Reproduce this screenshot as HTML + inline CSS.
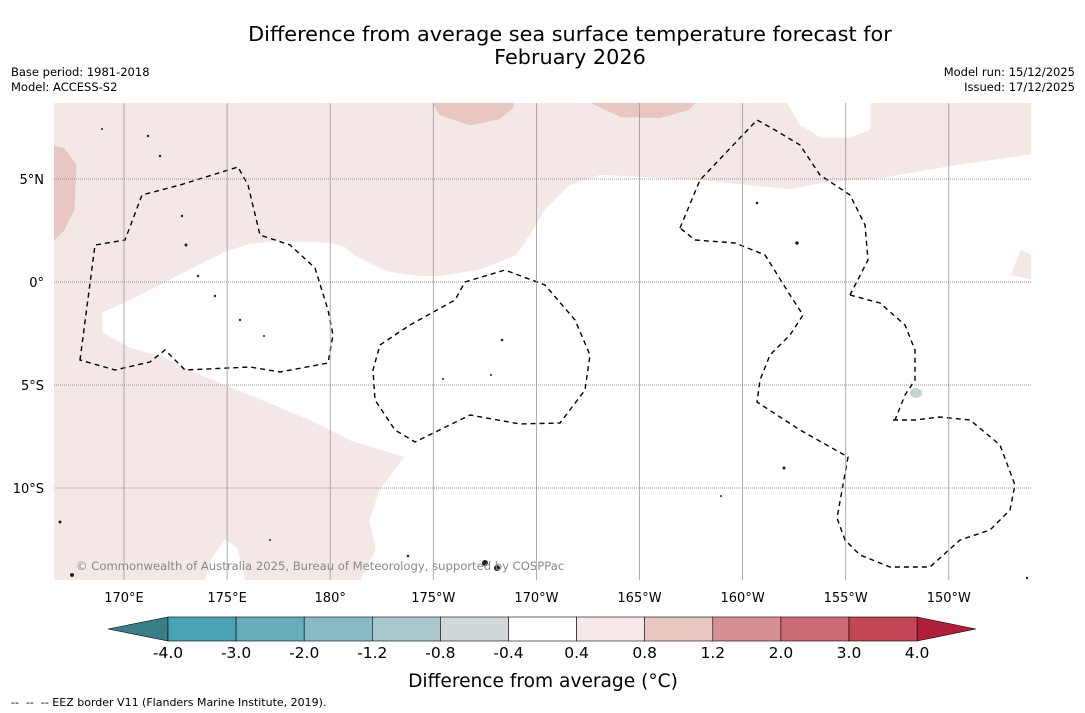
<!DOCTYPE html>
<html><head><meta charset="utf-8"><style>
body{margin:0;background:#fff;font-family:"DejaVu Sans","Liberation Sans",sans-serif;}
svg{display:block}
</style></head><body>
<svg id="c" width="1085" height="713" xmlns="http://www.w3.org/2000/svg">
<text x="570" y="41" font-size="20.8" text-anchor="middle">Difference from average sea surface temperature forecast for</text>
<text x="570" y="64" font-size="20.8" text-anchor="middle">February 2026</text>
<text x="11" y="76" font-size="11.5">Base period: 1981-2018</text>
<text x="11" y="91" font-size="11.5">Model: ACCESS-S2</text>
<text x="1075" y="76" font-size="11.5" text-anchor="end">Model run: 15/12/2025</text>
<text x="1075" y="91" font-size="11.5" text-anchor="end">Issued: 17/12/2025</text>
<defs><clipPath id="mc"><rect x="54" y="103" width="977" height="477"/></clipPath></defs>
<g id="map" clip-path="url(#mc)"></g>
<g id="eez" clip-path="url(#mc)" fill="none" stroke="#000" stroke-width="1.4" stroke-dasharray="5,4">
<path d="M80,360 L95,245 L125,240 L142,195 L180,185 L238,167 L248,185 L260,235 L290,245 L315,268 L328,310 L333,335 L328,363 L280,372 L250,367 L185,370 L165,350 L150,362 L115,370 Z"/>
<path d="M380,345 L410,325 L455,300 L465,282 L505,270 L545,285 L575,320 L590,355 L585,390 L560,423 L520,424 L470,415 L415,442 L395,430 L375,400 L373,370 Z"/>
<path d="M680,228 L700,180 L757,120 L775,130 L800,145 L820,175 L850,195 L865,225 L868,260 L850,295"/>
<path d="M850,295 L880,303 L905,325 L915,350 L915,380 L905,395 L895,420"/>
<path d="M893,420 L915,420 L940,417 L970,420 L1000,445 L1015,485 L1010,510 L990,530 L960,540 L930,567 L890,567 L860,555 L845,540 L837,518 L848,457 L800,430 L757,402 L760,380 L770,355 L790,335 L803,315 L790,295 L765,255 L735,243 L695,240 L680,228"/>
</g>
<g fill="#222">
<circle cx="148" cy="136" r="1.2"/><circle cx="160" cy="156" r="1.2"/><circle cx="186" cy="245" r="1.5"/><circle cx="215" cy="296" r="1.2"/><circle cx="240" cy="320" r="1.2"/><circle cx="264" cy="336" r="1"/><circle cx="502" cy="340" r="1.3"/><circle cx="443" cy="379" r="1"/><circle cx="491" cy="375" r="1"/><circle cx="784" cy="468" r="1.5"/><circle cx="797" cy="243" r="1.8"/><circle cx="757" cy="203" r="1.3"/><circle cx="721" cy="496" r="1"/><circle cx="60" cy="522" r="1.5"/><circle cx="72" cy="575" r="2"/><circle cx="485" cy="563" r="3"/><circle cx="497" cy="568" r="3"/><circle cx="408" cy="556" r="1.3"/><circle cx="270" cy="540" r="1"/><circle cx="1027" cy="578" r="1.2"/><circle cx="102" cy="129" r="1"/><circle cx="182" cy="216" r="1.2"/><circle cx="198" cy="276" r="1.2"/>
</g>
<ellipse cx="916" cy="393" rx="6" ry="5" fill="#c5d1d3"/>
<text x="76" y="570" font-size="11.6" fill="#888">© Commonwealth of Australia 2025, Bureau of Meteorology, supported by COSPPac</text>
<g id="axes"></g>
<g id="cbar"></g>
<text x="543" y="687" font-size="18.6" text-anchor="middle">Difference from average (°C)</text>
<text x="11" y="706" font-size="11" xml:space="preserve" style="white-space:pre">--  --  -- EEZ border V11 (Flanders Marine Institute, 2019).</text>
</svg>
<script>
const lonTicks=[170,175,180,185,190,195,200,205,210];
const lonLabels=["170°E","175°E","180°","175°W","170°W","165°W","160°W","155°W","150°W"];
const latTicks=[5,0,-5,-10];
const latLabels=["5°N","0°","5°S","10°S"];
const cbBounds=[-4,-3,-2,-1.2,-0.8,-0.4,0.4,0.8,1.2,2,3,4];
const cbLabels=["-4.0","-3.0","-2.0","-1.2","-0.8","-0.4","0.4","0.8","1.2","2.0","3.0","4.0"];
const cbColors=["#4aa3b2","#67adbb","#8abac5","#a9c8cc","#d0d8d9","#ffffff","#f5e8e6","#e8c6c1","#d68f97","#cc6a74","#c24756"];
const pinkRegion=[[214,6.2],[210.5,5.7],[206.7,5.05],[203.8,4.8],[202.3,4.5],[197.9,4.95],[193.1,5.2],[191.6,4.7],[190.4,3.5],[189.7,2.3],[189,1.3],[187.3,0.6],[185.3,0.3],[184.35,0.29],[182.9,0.49],[181.9,0.92],[181.2,1.3],[180.7,1.7],[180,1.9],[179,1.94],[177.56,2.0],[176.1,1.85],[174.9,1.46],[173.9,0.97],[172.95,0.49],[171.74,-0.14],[170.3,-0.87],[168.93,-1.5],[168.98,-2.47],[170.3,-3.2],[171.9,-3.64],[173.7,-4.5],[176.6,-5.7],[179,-6.7],[181,-7.7],[183.6,-8.5],[182.4,-10.1],[181.9,-11.55],[182.2,-13],[181.4,-14.6],[175.9,-14.6],[175.5,-12.9],[174.9,-12.5],[174.2,-13.5],[173.9,-14.6],[166.5,-14.6],[166.5,8.8],[214.1,8.8]];
const whiteHole=[[202.1,8.8],[206.2,8.8],[206.2,7.4],[205.2,7.0],[203.8,7.0],[202.8,7.6]];
const pinkSpot=[[213.5,1.55],[214.1,1.3],[214.1,0.1],[213,0.34]];
const darkA=[[166.5,6.65],[167.1,6.5],[167.7,5.7],[167.6,3.5],[167.1,2.5],[166.5,1.9]];
const darkB=[[184.9,8.8],[188.9,8.8],[188.9,8.45],[188.2,7.9],[186.8,7.6],[185.3,8.1]];
const darkC=[[192.4,8.8],[197.8,8.8],[197.4,8.35],[196,7.96],[194.1,8.0]];
const NS="http://www.w3.org/2000/svg";
const X=lon=>124+(lon-170)*20.62;
const Y=lat=>282-lat*20.6;
const CB=v=>{const i=cbBounds.findIndex((b,k)=>v<=cbBounds[k+1]||k==cbBounds.length-1);const k=Math.min(i,cbBounds.length-2);return 168+(k+(v-cbBounds[k])/(cbBounds[k+1]-cbBounds[k]))*68.1;};
function mk(t,a,p){const e=document.createElementNS(NS,t);for(const k in a)e.setAttribute(k,a[k]);p.appendChild(e);return e;}
const map=document.getElementById('map');
function poly(pts,fill,name){const e=mk('polygon',{points:pts.map(p=>X(p[0])+','+Y(p[1])).join(' '),fill:fill},map);

}
poly(pinkRegion,'#f4e8e6','anomaly-0.4-0.8-region');
poly(whiteHole,'#ffffff','anomaly-neutral-patch');
poly(pinkSpot,'#f4e8e6','anomaly-0.4-0.8-spot');
poly(darkA,'#e8c6c1','anomaly-0.8-1.2-west');
poly(darkB,'#e8c6c1','anomaly-0.8-1.2-north');
poly(darkC,'#e8c6c1','anomaly-0.8-1.2-northeast');
const ax=document.getElementById('axes');
lonTicks.forEach((l,i)=>{const x=X(l);
const g=mk('line',{x1:x,x2:x,y1:103,y2:580,stroke:'#999','stroke-width':0.8},ax);


const t=mk('text',{x:x,y:602,'font-size':13,'text-anchor':'middle'},ax);t.textContent=lonLabels[i];

});
latTicks.forEach((l,i)=>{const y=Y(l);
const g=mk('line',{x1:54,x2:1031,y1:y,y2:y,stroke:'#777','stroke-width':0.8,'stroke-dasharray':'1,1'},ax);


const t=mk('text',{x:44,y:y+5,'font-size':13,'text-anchor':'end'},ax);t.textContent=latLabels[i];

});
const cb=document.getElementById('cbar');
const tri1=mk('polygon',{points:'168,617 108,629 168,641',fill:'#3a7f87',stroke:'#000','stroke-width':0.6},cb);


const tri2=mk('polygon',{points:'917,617 976,629 917,641',fill:'#b01f3a',stroke:'#000','stroke-width':0.6},cb);


cbColors.forEach((c,i)=>{const x1=CB(cbBounds[i]),x2=CB(cbBounds[i+1]);
const r=mk('rect',{x:x1,y:617,width:x2-x1,height:24,fill:c,stroke:'#000','stroke-width':0.6},cb);

});
cbBounds.forEach((b,i)=>{const t=mk('text',{x:CB(b),y:658,'font-size':15.5,'text-anchor':'middle'},cb);t.textContent=cbLabels[i];

});
</script>
</body></html>
